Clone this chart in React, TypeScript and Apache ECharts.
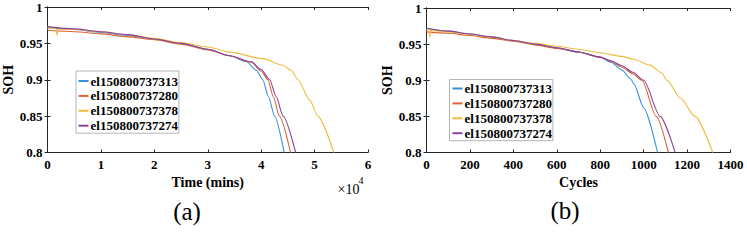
import React, { useEffect, useRef } from "react";
import * as echarts from "echarts";

// ---- Data ----
const seriesNames = ["el150800737313", "el150800737280", "el150800737378", "el150800737274"];
const seriesColors = ["#3592da", "#dc6535", "#efbc40", "#8c429c"];

// (a) SOH vs time (minutes)
const blueTime = [[0,0.972],[5000,0.969],[10000,0.965],[15000,0.961],[20000,0.956],[25000,0.950],[30000,0.942],[34100,0.933],[37200,0.925],[39100,0.913],[40300,0.9],[41400,0.876],[42500,0.85],[44300,0.8]];
const orangeTime = [[0,0.968],[5000,0.966],[10000,0.963],[15000,0.959],[20000,0.955],[25000,0.949],[30000,0.941],[34100,0.933],[38100,0.924],[40000,0.912],[41250,0.9],[42300,0.876],[43400,0.85],[45500,0.8]];
const yellowTime = [[0,0.971],[1600,0.971],[1800,0.961],[2000,0.970],[5000,0.969],[10000,0.966],[15000,0.962],[20000,0.957],[25000,0.951],[30000,0.945],[34100,0.938],[40300,0.929],[44100,0.920],[45600,0.913],[46900,0.9],[49100,0.872],[50600,0.85],[53600,0.8]];
const purpleTime = [[0,0.973],[5000,0.970],[10000,0.966],[15000,0.962],[20000,0.956],[25000,0.950],[30000,0.942],[34100,0.933],[38100,0.925],[40000,0.914],[41600,0.9],[42800,0.877],[44100,0.85],[46450,0.8]];

// (b) SOH vs cycles
const blueCyc = [[0,0.972],[100,0.968],[200,0.964],[300,0.960],[400,0.955],[500,0.950],[600,0.945],[700,0.939],[800,0.932],[850,0.925],[900,0.914],[940,0.902],[955,0.895],[1000,0.862],[1064,0.8]];
const orangeCyc = [[0,0.967],[100,0.965],[200,0.962],[300,0.958],[400,0.954],[500,0.949],[600,0.944],[700,0.939],[800,0.932],[850,0.926],[900,0.918],[950,0.909],[992,0.9],[1058,0.85],[1114,0.8]];
const yellowCyc = [[0,0.970],[12,0.970],[15,0.959],[18,0.969],[100,0.967],[200,0.964],[300,0.960],[400,0.955],[500,0.951],[600,0.947],[700,0.943],[800,0.938],[900,0.933],[954,0.929],[1030,0.921],[1084,0.910],[1107,0.9],[1170,0.875],[1236,0.85],[1318,0.8]];
const purpleCyc = [[0,0.972],[100,0.968],[200,0.964],[300,0.960],[400,0.955],[500,0.950],[600,0.945],[700,0.939],[800,0.932],[850,0.927],[900,0.920],[950,0.911],[1000,0.9],[1076,0.85],[1145,0.8]];

const timeData = [blueTime, orangeTime, yellowTime, purpleTime];
const cycData = [blueCyc, orangeCyc, yellowCyc, purpleCyc];

const timeAxis = { min: 0, max: 60000, interval: 10000 };
const cycAxis = { min: 0, max: 1400, interval: 200 };
const sohAxis = { min: 0.8, max: 1, interval: 0.05 };

const FONT = "'Liberation Serif', 'Times New Roman', serif";
const AXIS_COLOR = "#262626";

export default function App() {
  const ref = useRef<HTMLDivElement>(null);
  useEffect(() => {
    if (!ref.current) return;
    const chart = echarts.init(ref.current, undefined, { renderer: "svg" });

    const labelStyle = { fontFamily: FONT, fontWeight: "bold", fontSize: 13, color: "#000" };
    const nameStyle = { fontFamily: FONT, fontWeight: "bold", fontSize: 14, color: "#000" };
    const lineAx = { show: true, lineStyle: { color: AXIS_COLOR, width: 1 } };
    const tickAx = { show: true, inside: true, length: 3, lineStyle: { color: AXIS_COLOR } };

    const mainX = (grid: number, ax: any, name: string, gap: number, fmt: (v: number) => string) => ({
      type: "value", gridIndex: grid, position: "bottom", ...ax,
      name, nameLocation: "middle", nameGap: gap, nameTextStyle: nameStyle,
      axisLine: lineAx, axisTick: tickAx, splitLine: { show: false },
      axisLabel: { ...labelStyle, margin: 5, formatter: fmt },
    });
    const topX = (grid: number, ax: any) => ({
      type: "value", gridIndex: grid, position: "top", ...ax,
      axisLine: lineAx, axisTick: tickAx, splitLine: { show: false }, axisLabel: { show: false },
    });
    const mainY = (grid: number, gap: number) => ({
      type: "value", gridIndex: grid, position: "left", ...sohAxis,
      name: "SOH", nameLocation: "middle", nameGap: gap, nameTextStyle: nameStyle,
      axisLine: lineAx, axisTick: tickAx, splitLine: { show: false },
      axisLabel: { ...labelStyle, margin: 5, formatter: (v: number) => String(+v.toFixed(2)) },
    });
    const rightY = (grid: number) => ({
      type: "value", gridIndex: grid, position: "right", ...sohAxis,
      axisLine: lineAx, axisTick: tickAx, splitLine: { show: false }, axisLabel: { show: false },
    });

    const mkSeries = (data: number[][][], xi: number, yi: number) =>
      data.map((d, i) => ({
        type: "line",
        name: seriesNames[i],
        xAxisIndex: xi,
        yAxisIndex: yi,
        data: d,
        symbol: "none",
        smooth: 0.25,
        smoothMonotone: "x",
        lineStyle: { color: seriesColors[i], width: 1.1 },
        itemStyle: { color: seriesColors[i] },
        z: 2,
      }));

    const legendBase = {
      orient: "vertical",
      data: seriesNames,
      itemWidth: 10,
      itemHeight: 1.5,
      itemGap: 1.9,
      borderColor: "#b4b4b4",
      borderWidth: 1,
      backgroundColor: "#fff",
      selectedMode: false,
      itemStyle: { opacity: 0 },
      textStyle: { fontFamily: FONT, fontWeight: "bold", fontSize: 13, lineHeight: 13, color: "#000", padding: [0, 0, 0, -3] },
    };

    chart.setOption({
      animation: false,
      color: seriesColors,
      grid: [
        { left: 47.5, top: 7, width: 320.5, height: 145.5 },
        { left: 426.5, top: 8, width: 304, height: 144.5 },
      ],
      xAxis: [
        mainX(0, timeAxis, "Time (mins)", 22, (v: number) => String(v / 10000)),
        topX(0, timeAxis),
        mainX(1, cycAxis, "Cycles", 21, (v: number) => String(v)),
        topX(1, cycAxis),
      ],
      yAxis: [mainY(0, 29), rightY(0), mainY(1, 27.5), rightY(1)],
      legend: [
        { ...legendBase, left: 76, top: 71, padding: [3.5, 1, 1, 1.5] },
        { ...legendBase, left: 449.5, top: 79.5, padding: [2.5, 1, 1, 2] },
      ],
      series: [...mkSeries(timeData, 0, 0), ...mkSeries(cycData, 2, 2)],
      graphic: [
        { type: "text", left: 337.5, top: 182, style: { text: "×10", fontFamily: FONT, fontSize: 14, fill: "#000" } },
        { type: "text", left: 358.5, top: 175, style: { text: "4", fontFamily: FONT, fontSize: 10, fill: "#000" } },
        { type: "text", x: 187, y: 211, style: { text: "(a)", fontFamily: FONT, fontSize: 25, fill: "#000", align: "center", verticalAlign: "middle" } },
        { type: "text", x: 565, y: 210, style: { text: "(b)", fontFamily: FONT, fontSize: 25, fill: "#000", align: "center", verticalAlign: "middle" } },
      ],
    });
    return () => chart.dispose();
  }, []);
  return <div ref={ref} style={{ position: "absolute", left: 0, top: 0, width: 747, height: 243, background: "#fff" }} />;
}
